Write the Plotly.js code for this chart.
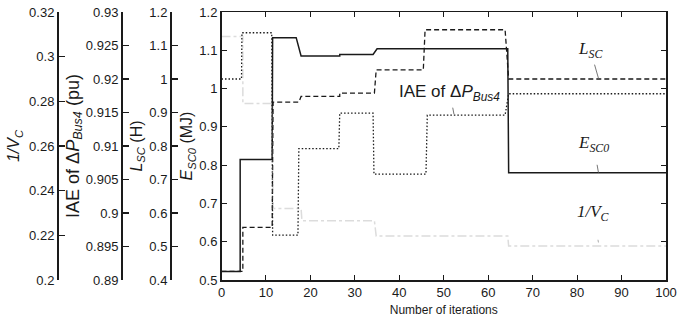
<!DOCTYPE html>
<html><head><meta charset="utf-8">
<script src="https://cdn.plot.ly/plotly-3.0.1.min.js"></script>
<style>html,body{margin:0;padding:0;background:#fff}#chart{width:678px;height:320px}</style>
</head><body><div id="chart"></div>
<script>
// Number of iterations (step points) and values
const escIter = [0, 4.2, 4.2, 11.4, 11.5, 16.8, 17.9, 26.6, 26.6, 34.1, 35.0, 64.4, 64.6, 100];
const escVal  = [0.522, 0.522, 0.815, 0.815, 1.133, 1.133, 1.085, 1.085, 1.089, 1.089, 1.104, 1.104, 0.78, 0.78];

const lscIter = [0, 4.8, 4.8, 11.4, 11.6, 17.4, 17.9, 26.6, 26.6, 34.4, 34.8, 45.4, 45.8, 63.8, 64.6, 100];
const lscVal  = [0.426, 0.426, 0.557, 0.557, 0.931, 0.931, 0.948, 0.948, 0.958, 0.958, 1.027, 1.027, 1.147, 1.147, 1.0, 1.0];

const iaeIter = [0, 4.5, 4.6, 11.3, 11.5, 17.2, 17.4, 26.4, 26.6, 34.1, 34.3, 46.0, 46.3, 63.8, 64.6, 100];
const iaeVal  = [0.920, 0.920, 0.9269, 0.9269, 0.8967, 0.8967, 0.9096, 0.9096, 0.9149, 0.9149, 0.9058, 0.9058, 0.9146, 0.9146, 0.9178, 0.9178];

const vcIter = [0, 4.8, 4.8, 11.4, 11.6, 17.9, 18.1, 34.4, 34.8, 64.4, 64.6, 100];
const vcVal  = [0.309, 0.309, 0.279, 0.279, 0.232, 0.232, 0.2265, 0.2265, 0.2197, 0.2197, 0.2152, 0.2152];

const xTicks = [0, 10, 20, 30, 40, 50, 60, 70, 80, 90, 100];

const FONT = 'Liberation Sans, Arial, sans-serif';
const INK = '#1a1a1a';

const traces = [
  {x: vcIter, y: vcVal, xaxis: 'x', yaxis: 'y4', mode: 'lines', name: '1/Vc',
   line: {color: 'rgba(140,140,140,0.3)', width: 1.5, dash: 'dashdot'}},
  {x: iaeIter, y: iaeVal, xaxis: 'x', yaxis: 'y3', mode: 'lines', name: 'IAE',
   line: {color: INK, width: 1.3, dash: '1.5px,2px'}},
  {x: lscIter, y: lscVal, xaxis: 'x', yaxis: 'y2', mode: 'lines', name: 'Lsc',
   line: {color: INK, width: 1.3, dash: '5px,3px'}},
  {x: escIter, y: escVal, xaxis: 'x', yaxis: 'y', mode: 'lines', name: 'Esc0',
   line: {color: INK, width: 1.5}}
];

const W = 656; // plot area width in px (678 - l - r)
const pos = px => (px - 10) / W;

const leftAxis = (p, range, dtick, title, standoff, fsize) => ({
  overlaying: 'y', anchor: 'free', position: p, side: 'left',
  range: range, dtick: dtick, ticks: 'inside', ticklen: 6, tickwidth: 1.2, tickcolor: INK,
  showline: true, linewidth: 2, linecolor: INK, showgrid: false, zeroline: false,
  tickfont: {family: FONT, size: 13, color: INK},
  title: {text: title, font: {family: FONT, size: fsize, color: INK}, standoff: standoff}
});

const layout = {
  width: 678, height: 320,
  margin: {l: 10, r: 12, t: 12, b: 40},
  paper_bgcolor: '#fff', plot_bgcolor: '#fff',
  showlegend: false,
  font: {family: FONT, color: INK},
  xaxis: {
    domain: [pos(221.5), 1], range: [0, 100], tickvals: xTicks,
    ticks: 'inside', ticklen: 5, tickcolor: INK, mirror: 'ticks',
    showline: true, linewidth: 1.5, linecolor: INK, showgrid: false, zeroline: false,
    tickfont: {family: FONT, size: 13, color: INK},
    title: {text: 'Number of iterations', font: {family: FONT, size: 12, color: INK}, standoff: 6}
  },
  yaxis: {
    anchor: 'x', range: [0.5, 1.2], dtick: 0.1,
    ticks: 'inside', ticklen: 5, tickcolor: INK, mirror: 'ticks',
    showline: true, linewidth: 1.5, linecolor: INK, showgrid: false, zeroline: false,
    tickfont: {family: FONT, size: 13, color: INK},
    title: {text: '<i>E</i><sub><i>SC0</i></sub> (MJ)', font: {family: FONT, size: 16, color: INK}, standoff: 2}
  },
  yaxis2: leftAxis(pos(171), [0.4, 1.2], 0.1, '<i>L</i><sub><i>SC</i></sub> (H)', 2, 16),
  yaxis3: leftAxis(pos(122), [0.89, 0.93], 0.005, 'IAE of Δ<i>P</i><sub><i>Bus4</i></sub> (pu)', 1, 18),
  yaxis4: leftAxis(pos(58), [0.2, 0.32], 0.02, '<i>1/V</i><sub><i>C</i></sub>', 4, 16),
  annotations: [
    {xref: 'x', yref: 'y', x: 84.8, y: 1.027, ax: -8, ay: -28, text: '<i>L</i><sub><i>SC</i></sub>',
     showarrow: true, arrowhead: 0, arrowwidth: 1, arrowcolor: '#777', startstandoff: 2,
     font: {family: 'Liberation Serif, serif', size: 17, color: INK}},
    {xref: 'x', yref: 'y', x: 52.3, y: 0.933, ax: -4, ay: -21, text: 'IAE of Δ<i>P</i><sub><i>Bus4</i></sub>',
     showarrow: true, arrowhead: 0, arrowwidth: 1, arrowcolor: '#777', startstandoff: 2,
     font: {family: FONT, size: 17, color: INK}},
    {xref: 'x', yref: 'y', x: 84.8, y: 0.781, ax: -5, ay: -28, text: '<i>E</i><sub><i>SC0</i></sub>',
     showarrow: true, arrowhead: 0, arrowwidth: 1, arrowcolor: '#777', startstandoff: 8,
     font: {family: 'Liberation Serif, serif', size: 17, color: INK}},
    {xref: 'x', yref: 'y', x: 84.8, y: 0.598, ax: -5, ay: -29, text: '<i>1/V</i><sub><i>C</i></sub>',
     showarrow: true, arrowhead: 0, arrowwidth: 1, arrowcolor: '#aaa', startstandoff: 14,
     font: {family: 'Liberation Serif, serif', size: 17, color: INK}}
  ]
};

Plotly.newPlot('chart', traces, layout, {staticPlot: true, displayModeBar: false});
</script>
</body></html>
